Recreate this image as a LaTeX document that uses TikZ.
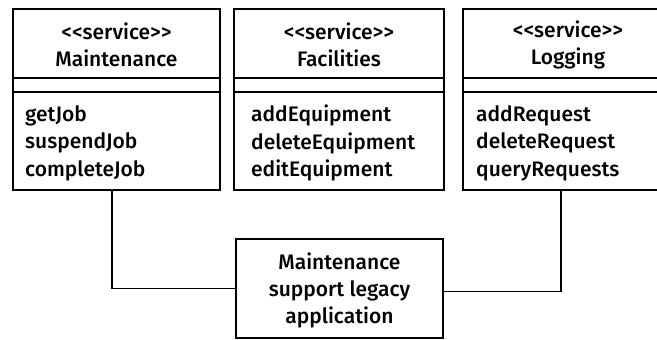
\documentclass[tikz,border=0pt]{standalone}
\usepackage{fontspec}
\setmainfont{Fira Sans Medium}
\usetikzlibrary{calc}
\begin{document}
\begin{tikzpicture}[x=1pt,y=-1pt,
  box/.style={draw, line width=1.9pt, inner sep=0pt, anchor=north west},
  wire/.style={draw, line width=1.5pt},
  txt/.style={font=\fontsize{21}{27}\selectfont, inner sep=0pt, align=center},
  ops/.style={font=\fontsize{21}{27.5}\selectfont, inner sep=0pt, align=left, anchor=north west}]
\useasboundingbox (0,0) rectangle (657,340);

% service classes: outer frame plus two compartment separators
\node[box, minimum width=207pt, minimum height=181pt] (svcM) at (12,8) {};
\node[box, minimum width=210pt, minimum height=181pt] (svcF) at (233,8) {};
\node[box, minimum width=210pt, minimum height=181pt] (svcL) at (462,8) {};
\foreach \b in {svcM,svcF,svcL}{
  \draw[line width=1.6pt] (\b.west |- 0,78) -- (\b.east |- 0,78);
  \draw[line width=1.6pt] (\b.west |- 0,92) -- (\b.east |- 0,92);
}

% stereotype and name
\node[txt] (tM) at ($(svcM.north)+(0,37)$) {<{}<service>{}>\\Maintenance};
\node[txt] (tF) at ($(svcF.north)+(0,37)$) {<{}<service>{}>\\Facilities};
\node[txt] (tL) at ($(svcL.north)+(0,37)$) {<{}<service>{}>\\Logging};

% operations
\node[ops] (oM) at (25,105) {getJob\\suspendJob\\completeJob};
\node[ops] (oF) at (251,105) {addEquipment\\deleteEquipment\\editEquipment};
\node[ops] (oL) at (476,105) {addRequest\\deleteRequest\\queryRequests};

% legacy application
\node[box, minimum width=207pt, minimum height=99pt] (legacy) at (235,238) {};
\node[txt] (tLeg) at ($(legacy.center)+(0,2)$) {Maintenance\\support legacy\\application};

% connectors
\coordinate (lx) at (112,0);
\coordinate (rx) at (561,0);
\draw[wire] (lx |- svcM.south) |- (legacy.west);
\draw[wire] (rx |- svcL.south) |- ($(legacy.east)+(0,3)$);
\end{tikzpicture}
\end{document}
